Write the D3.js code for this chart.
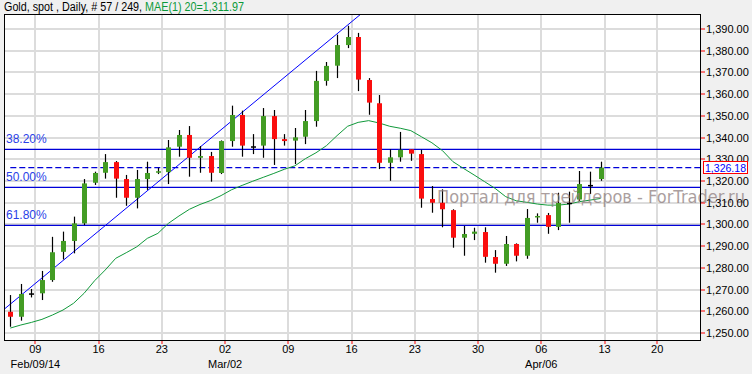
<!DOCTYPE html>
<html>
<head>
<meta charset="utf-8">
<script src="https://cdn.jsdelivr.net/npm/d3@7"></script>
<style>
  body { margin: 0; background: #f0f0f0; }
  svg { display: block; font-family: "Liberation Sans", Arial, sans-serif; }
</style>
</head>
<body>
<div id="chart"></div>
<script>
// daily gold spot bars (index 0 = Feb 06 2014)
var opens = [1259.8, 1257.5, 1268.3, 1268.3, 1274.4, 1287.4, 1292.4, 1300.5, 1319.2, 1323.8,
    1328.7, 1320.9, 1312.3, 1320.9, 1324.0, 1324.1, 1335.8, 1341.2, 1330.7, 1331.5,
    1323.7, 1338.4, 1350.4, 1336.0, 1336.3, 1349.9, 1339.3, 1338.6, 1340.4, 1347.6,
    1366.1, 1373.1, 1382.6, 1386.3, 1366.5, 1355.8, 1328.4, 1330.9, 1334.6, 1332.4,
    1311.7, 1310.0, 1306.6, 1293.9, 1295.7, 1296.5, 1285.0, 1281.9, 1291.0, 1285.6,
    1303.6, 1304.3, 1298.9, 1310.0, 1311.5, 1318.2, 1320.9];
var highs = [1267.5, 1272.6, 1270.3, 1278.6, 1294.3, 1296.7, 1303.6, 1320.9, 1324.3, 1332.4,
    1329.2, 1322.8, 1325.1, 1328.9, 1326.1, 1338.9, 1343.5, 1345.3, 1336.1, 1333.4,
    1338.7, 1354.7, 1352.4, 1341.6, 1353.6, 1352.7, 1341.6, 1344.4, 1352.7, 1370.7,
    1374.8, 1387.4, 1391.5, 1388.2, 1367.4, 1359.6, 1334.6, 1342.6, 1334.6, 1334.4,
    1317.7, 1316.2, 1307.0, 1299.3, 1298.5, 1298.7, 1288.2, 1294.7, 1291.3, 1307.1,
    1305.1, 1305.3, 1314.6, 1315.1, 1324.6, 1324.3, 1328.9];
var lows = [1252.9, 1255.7, 1266.4, 1265.2, 1273.6, 1283.9, 1286.7, 1299.7, 1318.2, 1321.1,
    1312.3, 1308.6, 1307.4, 1315.9, 1323.2, 1318.6, 1331.2, 1322.0, 1323.8, 1319.7,
    1323.2, 1335.8, 1331.2, 1332.4, 1330.7, 1327.4, 1336.3, 1327.8, 1337.0, 1345.0,
    1363.9, 1367.4, 1381.2, 1361.4, 1350.5, 1325.5, 1320.1, 1328.9, 1329.3, 1307.7,
    1305.4, 1298.7, 1289.3, 1285.6, 1292.8, 1282.4, 1277.8, 1280.9, 1283.0, 1284.2,
    1300.8, 1295.7, 1297.4, 1300.8, 1310.8, 1314.0, 1320.1];
var closes = [1257.5, 1268.0, 1268.3, 1274.4, 1287.2, 1292.4, 1300.5, 1318.9, 1323.7, 1328.7,
    1321.1, 1312.3, 1320.9, 1323.7, 1324.5, 1335.5, 1341.2, 1330.7, 1331.5, 1323.8,
    1338.4, 1350.4, 1336.3, 1336.0, 1349.9, 1339.3, 1338.4, 1340.1, 1347.6, 1366.1,
    1373.0, 1382.6, 1386.3, 1366.7, 1356.1, 1328.4, 1330.9, 1334.4, 1332.6, 1311.9,
    1310.0, 1307.0, 1293.9, 1295.6, 1296.7, 1285.1, 1281.9, 1291.0, 1285.6, 1303.0,
    1303.9, 1298.9, 1309.9, 1310.0, 1318.6, 1318.2, 1326.18];
// 20 day moving average (green line)
var ma20 = [1252.3, 1253.7, 1254.9, 1256.3, 1258.3, 1260.6, 1263.7, 1268.3, 1274.1, 1279.0,
    1284.4, 1287.0, 1289.7, 1293.6, 1295.9, 1300.5, 1303.9, 1307.0, 1309.2, 1311.0,
    1313.3, 1316.0, 1318.0, 1319.9, 1321.7, 1323.5, 1325.4, 1327.0, 1330.3, 1333.0,
    1336.3, 1340.9, 1345.2, 1347.0, 1347.8, 1346.7, 1345.2, 1344.3, 1343.2, 1340.4,
    1337.6, 1334.0, 1328.9, 1325.8, 1322.8, 1319.7, 1316.6, 1312.8, 1310.9, 1310.2,
    1309.4, 1308.9, 1308.9, 1309.4, 1310.5, 1311.2, 1311.97];

// x axis: bar index of each sunday tick
var tickIdx = [2, 8, 14, 20, 26, 32, 38, 44, 50, 56, 61];
var tickDays = ["09", "16", "23", "02", "09", "16", "23", "30", "06", "13", "20"];
var monthIdx = [2, 20, 50];
var monthLabels = ["Feb/09/14", "Mar/02", "Apr/06"];

// y axis
var priceTicks = d3.range(1250, 1391, 10);

// fibonacci levels
var fibLevels = [1334.6, 1317.1, 1299.6];
var fibLabels = ["38.20%", "50.00%", "61.80%"];

// trend line anchors [bar index, price]
var trendFrom = [-0.6, 1260.9];
var trendTo = [33.27, 1396.9];

var lastPrice = 1326.18;

var width = 752, height = 374;
var pLeft = 4, pTop = 14, pRight = 700, pBottom = 340;

var svg = d3.select("#chart").append("svg")
    .attr("width", width)
    .attr("height", height);

svg.append("rect").attr("width", width).attr("height", height).attr("fill", "#f0f0f0");
svg.append("rect")
    .attr("x", pLeft).attr("y", pTop)
    .attr("width", pRight - pLeft).attr("height", pBottom - pTop)
    .attr("fill", "#ffffff");

var x = d3.scaleLinear().domain([0, 56]).range([10.3, 600.54]);
var y = d3.scaleLinear().domain([1246.8, 1396.9]).range([pBottom, pTop]);

svg.append("defs").append("clipPath").attr("id", "plot")
    .append("rect")
    .attr("x", pLeft).attr("y", pTop)
    .attr("width", pRight - pLeft).attr("height", pBottom - pTop);

var plot = svg.append("g").attr("clip-path", "url(#plot)");

// grid
plot.selectAll(".hgrid").data(priceTicks).enter().append("line")
    .attr("x1", pLeft).attr("x2", pRight)
    .attr("y1", d => Math.round(y(d))).attr("y2", d => Math.round(y(d)))
    .attr("stroke", "#dcdcdc").attr("stroke-width", 2);

plot.selectAll(".vgrid").data(tickIdx).enter().append("line")
    .attr("x1", d => Math.round(x(d) + 4)).attr("x2", d => Math.round(x(d) + 4))
    .attr("y1", pTop).attr("y2", pBottom)
    .attr("stroke", "#dcdcdc").attr("stroke-width", 2);

// fib lines
plot.selectAll(".fib").data(fibLevels).enter().append("line")
    .attr("x1", pLeft).attr("x2", pRight)
    .attr("y1", d => y(d)).attr("y2", d => y(d))
    .attr("stroke", "#0000d8").attr("stroke-width", 1.3);

plot.selectAll(".fibtext").data(fibLevels).enter().append("text")
    .attr("x", 6)
    .attr("y", d => y(d) - 6.5)
    .attr("font-size", 12)
    .attr("fill", "#2a3fe8")
    .text((d, i) => fibLabels[i]);

// watermark
svg.append("text")
    .attr("x", 437).attr("y", 203)
    .attr("font-family", "DejaVu Sans, sans-serif")
    .attr("font-size", 17.5)
    .attr("fill", "#8f7f7f")
    .attr("opacity", 0.75)
    .attr("textLength", 308)
    .attr("lengthAdjust", "spacingAndGlyphs")
    .text("Портал для трейдеров - ForTrader.ru");

// last price dashed line
plot.append("line")
    .attr("x1", x(0)).attr("x2", pRight)
    .attr("y1", y(lastPrice)).attr("y2", y(lastPrice))
    .attr("stroke", "#0000d8").attr("stroke-width", 1.3)
    .attr("stroke-dasharray", "6,3");

// trend line
var tx = d3.scaleLinear().domain([trendFrom[0], trendTo[0]]).range([trendFrom[1], trendTo[1]]);
plot.append("line")
    .attr("x1", x(trendFrom[0])).attr("y1", y(trendFrom[1]))
    .attr("x2", x(trendTo[0] + 2)).attr("y2", y(tx(trendTo[0] + 2)))
    .attr("stroke", "#0000ff").attr("stroke-width", 1);

// moving average
plot.append("path")
    .attr("d", d3.line().x((d, i) => x(i)).y(d => y(d))(ma20))
    .attr("fill", "none")
    .attr("stroke", "#10993a")
    .attr("stroke-width", 1);

// candles
var bars = opens.map(function (o, i) {
    return { i: i, o: o, h: highs[i], l: lows[i], c: closes[i] };
});

var candle = plot.selectAll(".candle").data(bars).enter().append("g");

candle.append("line")
    .attr("x1", d => Math.round(x(d.i)) + 0.5).attr("x2", d => Math.round(x(d.i)) + 0.5)
    .attr("y1", d => y(d.h)).attr("y2", d => y(d.l))
    .attr("stroke", "#000").attr("stroke-width", 1.2);

candle.append("rect")
    .attr("x", d => Math.round(x(d.i)) - 2)
    .attr("width", 5)
    .attr("y", d => y(Math.max(d.o, d.c)))
    .attr("height", d => Math.max(1.5, Math.abs(y(d.o) - y(d.c))))
    .attr("fill", function (d) {
        if (d.c > d.o) return "#439c24";
        if (d.c < d.o) return "#fa0e0e";
        return "#000";
    });

// frame
svg.append("rect")
    .attr("x", pLeft + 0.5).attr("y", pTop + 0.5)
    .attr("width", pRight - pLeft).attr("height", pBottom - pTop)
    .attr("fill", "none").attr("stroke", "#000").attr("stroke-width", 1);

// right axis
var yAxis = svg.append("g");
yAxis.selectAll("line").data(priceTicks).enter().append("line")
    .attr("x1", pRight + 1).attr("x2", pRight + 5)
    .attr("y1", d => Math.round(y(d))).attr("y2", d => Math.round(y(d)))
    .attr("stroke", "#ff0000");
yAxis.selectAll("text").data(priceTicks).enter().append("text")
    .attr("x", 706).attr("y", d => y(d) + 4)
    .attr("font-size", 11)
    .attr("fill", "#000")
    .text(d => d3.format(",.2f")(d));

// last price box
svg.append("rect")
    .attr("x", 703.5).attr("y", Math.round(y(lastPrice)) - 6.5)
    .attr("width", 44).attr("height", 12)
    .attr("fill", "#fff").attr("stroke", "#ff0000");
svg.append("text")
    .attr("x", 705).attr("y", y(lastPrice) + 4)
    .attr("font-size", 11)
    .attr("textLength", 41)
    .attr("lengthAdjust", "spacingAndGlyphs")
    .attr("fill", "#0000ff")
    .text(d3.format(",.2f")(lastPrice));

// bottom axis
var xAxis = svg.append("g");
xAxis.selectAll("line").data(tickIdx).enter().append("line")
    .attr("x1", d => Math.round(x(d) + 4)).attr("x2", d => Math.round(x(d) + 4))
    .attr("y1", pBottom + 1).attr("y2", pBottom + 4)
    .attr("stroke", "#ff0000");
xAxis.selectAll(".day").data(tickIdx).enter().append("text")
    .attr("x", d => x(d) + 4).attr("y", 353)
    .attr("text-anchor", "middle")
    .attr("font-size", 11)
    .text((d, i) => tickDays[i]);
xAxis.selectAll(".month").data(monthIdx).enter().append("text")
    .attr("x", d => x(d) + 4).attr("y", 368)
    .attr("text-anchor", "middle")
    .attr("font-size", 11)
    .text((d, i) => monthLabels[i]);

// header
var title = svg.append("text")
    .attr("x", 4).attr("y", 11)
    .attr("font-size", 12)
    .attr("textLength", 240)
    .attr("lengthAdjust", "spacingAndGlyphs");
title.append("tspan").attr("fill", "#000").text("Gold, spot , Daily, # 57 / 249, ");
title.append("tspan").attr("fill", "#0b9a3a").text("MAE(1) 20=1,311.97");
</script>
</body>
</html>
